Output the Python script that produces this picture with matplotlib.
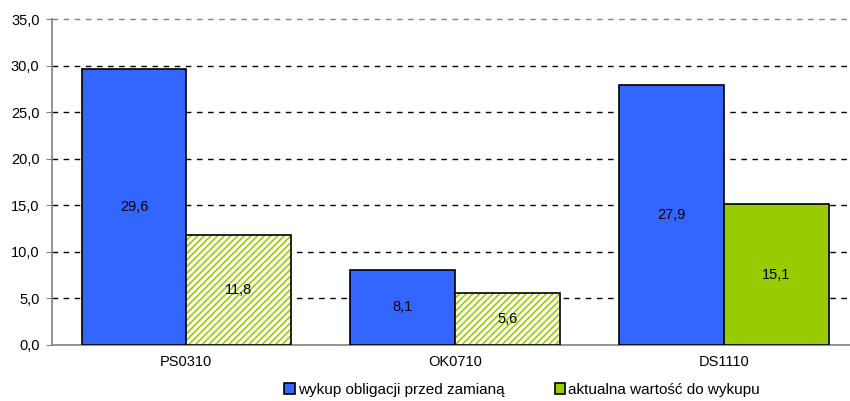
import numpy as np
import matplotlib
matplotlib.use('Agg')
import matplotlib.pyplot as plt
from matplotlib.patches import Patch

plt.rcParams['font.family'] = ['Liberation Sans', 'DejaVu Sans']
plt.rcParams['hatch.linewidth'] = 1.2

categories = ['PS0310', 'OK0710', 'DS1110']
before_swap = [29.6, 8.1, 27.9]
current_value = [11.8, 5.6, 15.1]
hatched = [True, True, False]
series_names = ['wykup obligacji przed zamianą', 'aktualna wartość do wykupu']

BLUE = '#3366FF'
GREEN = '#99CC00'
FS = 10.5


def fmt(v):
    return f'{v:.1f}'.replace('.', ',')


fig = plt.figure(figsize=(8.5, 4.01), dpi=100)
ax = fig.add_axes([52 / 850, 1 - 345 / 401, 1 - 52 / 850, 326 / 401])

x = np.arange(len(categories))
w = 0.39

ax.bar(x - w / 2, before_swap, w, color=BLUE, edgecolor='black', linewidth=1.2, zorder=3)

for xi, v, h in zip(x, current_value, hatched):
    if h:
        # striped fill: hatch takes the edge colour, so draw outline separately
        ax.bar(xi + w / 2, v, w, color='white', edgecolor=GREEN, hatch='/////',
               linewidth=0, zorder=3)
        ax.bar(xi + w / 2, v, w, fill=False, edgecolor='black', linewidth=1.2, zorder=4)
    else:
        ax.bar(xi + w / 2, v, w, color=GREEN, edgecolor='black', linewidth=1.2, zorder=3)

for xi, v in zip(x, before_swap):
    ax.text(xi - w / 2, v / 2, fmt(v), ha='center', va='center', fontsize=FS, zorder=5)
for xi, v in zip(x, current_value):
    ax.text(xi + w / 2, v / 2, fmt(v), ha='center', va='center', fontsize=FS, zorder=5)

ax.set_ylim(0, 35)
ax.set_xlim(-0.5, 2.47)
yt = np.arange(0, 36, 5)
ax.set_yticks(yt)
ax.set_yticklabels([fmt(t) for t in yt], fontsize=FS)
ax.set_xticks(x)
ax.set_xticklabels(categories, fontsize=FS)
ax.tick_params(axis='x', length=0, pad=7)
ax.tick_params(axis='y', length=4, color='#808080', pad=5)

# dashed horizontal grid; the top line is lighter
for t in yt[1:]:
    ax.axhline(t, color='#808080' if t == yt[-1] else 'black',
               linestyle=(0, (4, 4)), linewidth=1.0, zorder=0, clip_on=False)
for s in ['top', 'right']:
    ax.spines[s].set_visible(False)
ax.spines['left'].set_color('#808080')
ax.spines['bottom'].set_color('#808080')
ax.spines['left'].set_linewidth(1.2)
ax.spines['bottom'].set_linewidth(1.2)

handles = [Patch(facecolor=BLUE, edgecolor='black', linewidth=1.2),
           Patch(facecolor=GREEN, edgecolor='black', linewidth=1.2)]
fig.legend(handles, series_names, loc='center', bbox_to_anchor=(522 / 850, 1 - 390 / 401),
           ncol=2, frameon=False, fontsize=11, handlelength=0.7, handleheight=0.7,
           handletextpad=0.2, columnspacing=3.3)

fig.savefig('out.png', dpi=100)
